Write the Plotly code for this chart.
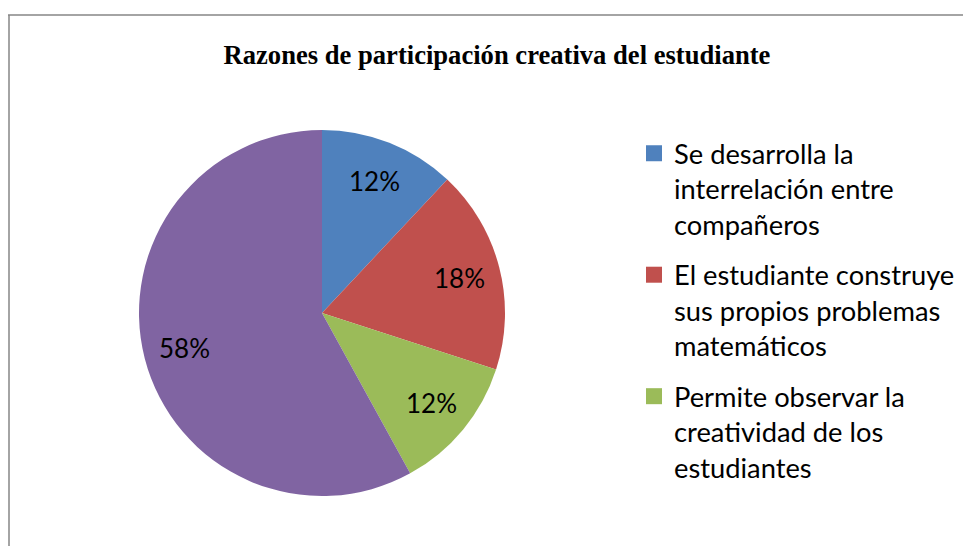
import math
import plotly.graph_objects as go

# chart data
categories = [
    "Se desarrolla la<br>interrelación entre<br>compañeros",
    "El estudiante construye<br>sus propios problemas<br>matemáticos",
    "Permite observar la<br>creatividad de los<br>estudiantes",
    "Otros",
]
values = [12, 18, 12, 58]
colors = ["#4F81BD", "#C0504D", "#9BBB59", "#8064A2"]
legend_count = 3  # only the first three entries fit in the frame

W, H = 971, 546
off = 8  # page body margin
cx, cy, r = 322 - off, 313 - off, 183

fig = go.Figure()
fig.add_trace(
    go.Pie(
        labels=categories,
        values=values,
        sort=False,
        direction="clockwise",
        rotation=0,
        marker=dict(colors=colors, line=dict(width=0)),
        textinfo="none",
        showlegend=False,
        hoverinfo="label+percent",
        domain=dict(x=[(cx - r) / W, (cx + r) / W], y=[1 - (cy + r) / H, 1 - (cy - r) / H]),
    )
)

# percentage labels placed along each slice's mid angle, like the spreadsheet does
total = sum(values)
annotations = []
acc = 0
for v in values:
    mid = (acc + v / 2) / total * 2 * math.pi
    acc += v
    lx = cx + 0.775 * r * math.sin(mid)
    ly = cy - 0.775 * r * math.cos(mid)
    annotations.append(dict(
        x=lx / W, y=1 - ly / H, xref="paper", yref="paper", showarrow=False,
        xanchor="center", yanchor="middle",
        text=f"{round(v / total * 100)}%",
        font=dict(family="Lato", size=26, color="black"),
    ))

# legend entries drawn as empty scatter traces so the last category stays out of it
for i in range(legend_count):
    fig.add_trace(
        go.Scatter(
            x=[None], y=[None], mode="markers", name=categories[i],
            marker=dict(symbol="square", size=17, color=colors[i]),
            legendgroup=str(i),
        )
    )

fig.update_layout(
    width=W, height=H,
    margin=dict(l=0, r=0, t=0, b=0),
    paper_bgcolor="white", plot_bgcolor="white",
    xaxis=dict(visible=False), yaxis=dict(visible=False),
    title=dict(
        text="<b>Razones de participación creativa del estudiante</b>",
        x=(497 - off) / W, xanchor="center", y=1 - (55 - off) / H, yanchor="middle",
        font=dict(family="Liberation Serif", size=26.6, color="black"),
    ),
    annotations=annotations,
    legend=dict(
        x=(634 - off) / W, y=1 - (129 - off) / H, xanchor="left", yanchor="top",
        font=dict(family="Lato", size=27.3, color="black"),
        valign="top", tracegroupgap=12, traceorder="grouped",
        bgcolor="rgba(0,0,0,0)",
    ),
    shapes=[
        dict(type="line", xref="paper", yref="paper", x0=0, x1=1.01, y0=1 - (15 - off) / H, y1=1 - (15 - off) / H,
             line=dict(color="#868686", width=1.5)),
        dict(type="line", xref="paper", yref="paper", x0=1 / W, x1=1 / W, y0=1 - (15 - off) / H, y1=-0.01,
             line=dict(color="#868686", width=1.5)),
    ],
)

fig.write_html("out.html")
